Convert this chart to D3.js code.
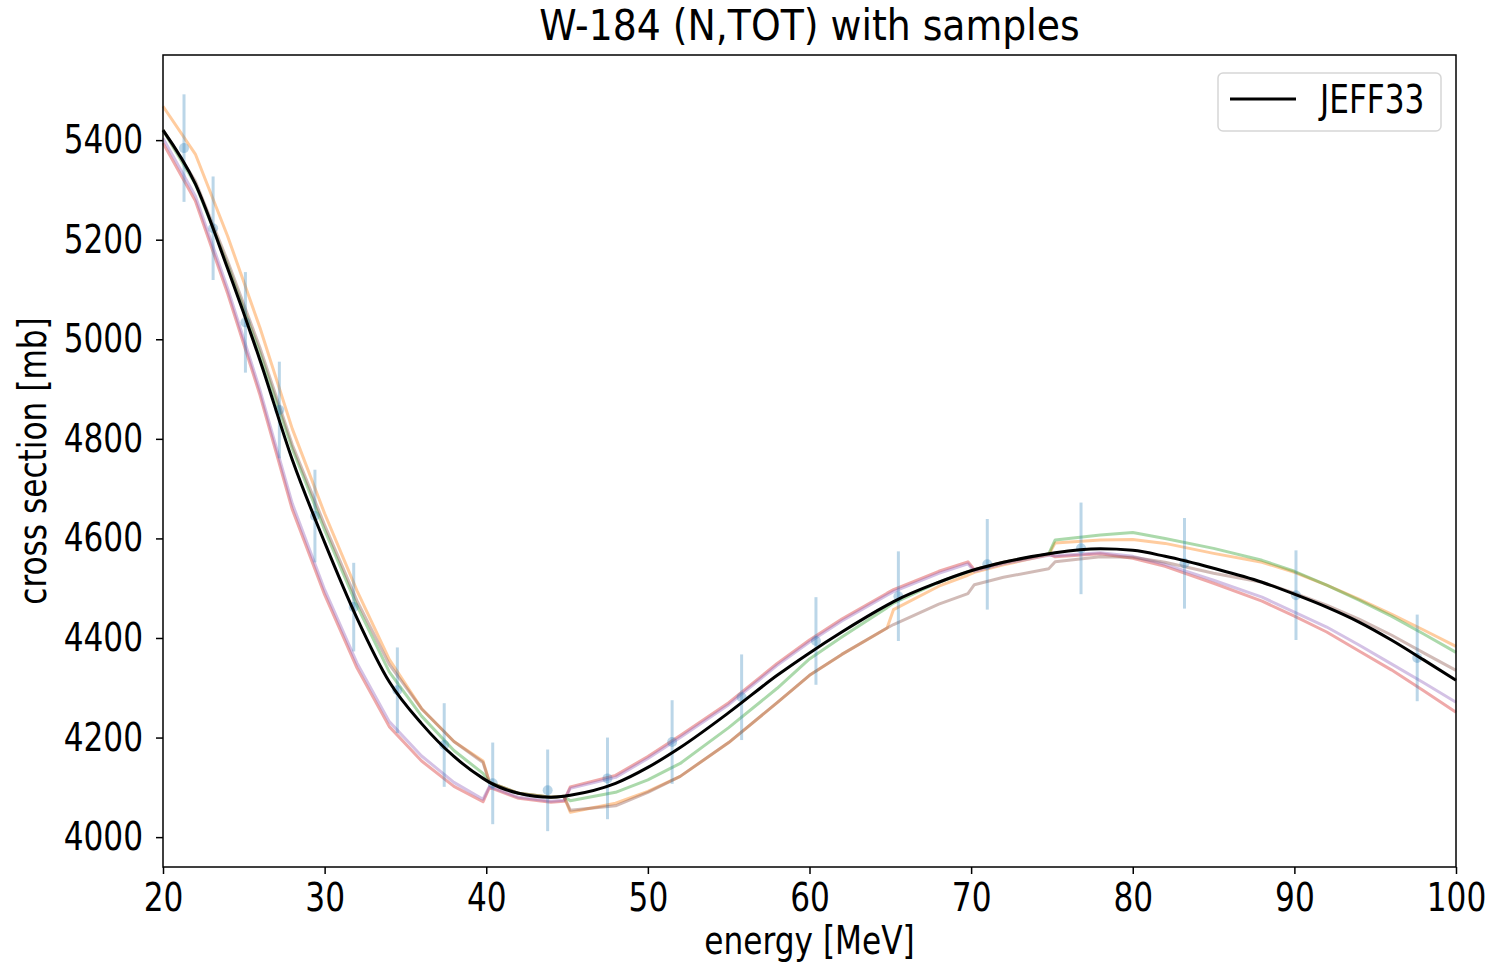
<!DOCTYPE html>
<html>
<head>
<meta charset="utf-8">
<script src="https://cdn.jsdelivr.net/npm/d3@7"></script>
<style>
  body { margin: 0; background: #fff; }
  svg { display: block; }
</style>
</head>
<body>
<svg id="chart" width="1492" height="968"></svg>
<script>
// energy grid shared by the evaluated curve and the samples [MeV]
const energy = [20, 22, 24, 26, 28, 30, 32, 34, 36, 38, 39.8, 40.2, 42, 44, 44.8, 45.2,
  48, 50, 52, 55, 58, 60, 62, 64.8, 65.2, 68, 69.8, 70.2, 72, 74.8, 75.2, 78, 80, 82, 85,
  88, 90, 92, 94, 96, 98, 100];

// JEFF33 cross section [mb]
const jeff33 = [5420, 5312, 5142, 4958, 4758, 4592, 4440, 4312, 4228, 4162, 4118, 4110, 4088, 4080, 4082, 4084,
  4108, 4140, 4180, 4250, 4325, 4370, 4412, 4466, 4473, 4512, 4533, 4537, 4552, 4569, 4571, 4579, 4576, 4564, 4540,
  4512, 4488, 4462, 4432, 4396, 4356, 4315];

// random samples
const sampleOrange = [5468, 5372, 5207, 5023, 4820, 4650, 4495, 4357, 4258, 4192, 4153, 4110, 4088, 4080, 4082, 4050,
  4068, 4092, 4122, 4190, 4270, 4325, 4367, 4420, 4457, 4504, 4526, 4532, 4547, 4567, 4591, 4597, 4598, 4590, 4570,
  4552, 4532, 4506, 4478, 4448, 4416, 4383];
const sampleGreen = [5420, 5312, 5150, 4973, 4780, 4617, 4465, 4332, 4243, 4174, 4128, 4110, 4088, 4080, 4082, 4073,
  4090, 4115, 4148, 4220, 4299, 4358, 4402, 4461, 4470, 4512, 4533, 4537, 4552, 4569, 4597, 4607, 4612, 4600, 4580,
  4556, 4534, 4506, 4476, 4444, 4408, 4371];
const sampleRed = [5394, 5278, 5092, 4888, 4658, 4487, 4340, 4222, 4153, 4102, 4071, 4100, 4078, 4070, 4072, 4101,
  4124, 4162, 4204, 4270, 4349, 4396, 4438, 4490, 4497, 4534, 4553, 4537, 4552, 4569, 4563, 4569, 4560, 4544, 4510,
  4474, 4444, 4412, 4374, 4336, 4294, 4251];
const samplePurple = [5404, 5288, 5102, 4898, 4670, 4497, 4350, 4232, 4163, 4110, 4076, 4102, 4080, 4072, 4074, 4098,
  4120, 4158, 4200, 4266, 4345, 4392, 4434, 4486, 4493, 4530, 4549, 4534, 4549, 4566, 4565, 4571, 4564, 4548, 4516,
  4482, 4452, 4422, 4386, 4348, 4310, 4271];
const sampleBrown = [5420, 5318, 5157, 4983, 4788, 4627, 4475, 4347, 4258, 4192, 4150, 4110, 4088, 4080, 4082, 4054,
  4063, 4090, 4122, 4190, 4270, 4325, 4367, 4420, 4427, 4468, 4489, 4507, 4522, 4539, 4553, 4563, 4562, 4552, 4530,
  4512, 4490, 4466, 4438, 4406, 4370, 4335];

// experimental points with uncertainty
const expEnergy = [21.3, 23.1, 25.1, 27.2, 29.4, 31.8, 34.5, 37.4, 40.4, 43.8, 47.5, 51.5, 55.8, 60.4, 65.5, 71.0,
  76.8, 83.2, 90.1, 97.6];
const expValue = [5384, 5223, 5034, 4858, 4645, 4462, 4295, 4185, 4108, 4094, 4118, 4191, 4281, 4394, 4484, 4548,
  4580, 4550, 4486, 4360];
const expError = [108, 104, 101, 97, 93, 89, 86, 84, 82, 82, 82, 84, 86, 88, 90, 91, 92, 91, 90, 87];

const xTicks = [20, 30, 40, 50, 60, 70, 80, 90, 100];
const yTicks = [4000, 4200, 4400, 4600, 4800, 5000, 5200, 5400];

const svg = d3.select('#chart');
const margin = { top: 55, right: 36, bottom: 101, left: 163 },
    width = +svg.attr('width') - margin.left - margin.right,
    height = +svg.attr('height') - margin.top - margin.bottom;

const font = "'DejaVu Sans', sans-serif";
const fontSize = 39;
const squeeze = 0.8; // text in the picture is narrower than normal

const g = svg.append('g').attr('transform', `translate(${margin.left},${margin.top})`);

const x = d3.scaleLinear().domain([20, 100]).range([0, width]);
const y = d3.scaleLinear().domain([3940, 5571]).range([height, 0]);

const samples = [
    { values: sampleOrange, color: '#ff7f0e' },
    { values: sampleGreen, color: '#2ca02c' },
    { values: sampleRed, color: '#d62728' },
    { values: samplePurple, color: '#9467bd' },
    { values: sampleBrown, color: '#8c564b' }
];

const line = d3.line().x(d => x(d[0])).y(d => y(d[1]));

// samples
samples.forEach(s => {
    g.append('path')
        .datum(energy.map((e, i) => [e, s.values[i]]))
        .attr('fill', 'none')
        .attr('stroke', s.color)
        .attr('stroke-opacity', 0.4)
        .attr('stroke-width', 3)
        .attr('stroke-linejoin', 'round')
        .attr('d', line);
});

// error bars
const exp = expEnergy.map((e, i) => ({ e: e, v: expValue[i], err: expError[i] }));
g.selectAll('.ebar')
    .data(exp)
    .enter().append('line')
    .attr('class', 'ebar')
    .attr('x1', d => x(d.e)).attr('x2', d => x(d.e))
    .attr('y1', d => y(d.v - d.err)).attr('y2', d => y(d.v + d.err))
    .attr('stroke', '#1f77b4')
    .attr('stroke-opacity', 0.3)
    .attr('stroke-width', 3);
g.selectAll('.edot')
    .data(exp)
    .enter().append('circle')
    .attr('class', 'edot')
    .attr('cx', d => x(d.e)).attr('cy', d => y(d.v))
    .attr('r', 5)
    .attr('fill', '#1f77b4')
    .attr('fill-opacity', 0.3);

// JEFF33
g.append('path')
    .datum(energy.map((e, i) => [e, jeff33[i]]))
    .attr('fill', 'none')
    .attr('stroke', '#000')
    .attr('stroke-width', 3)
    .attr('d', line.curve(d3.curveMonotoneX));

// axes
const xAxis = g.append('g')
    .attr('transform', `translate(0,${height})`)
    .call(d3.axisBottom(x).tickValues(xTicks).tickFormat(d3.format('d'))
        .tickSize(7).tickPadding(9).tickSizeOuter(0));
const yAxis = g.append('g')
    .call(d3.axisLeft(y).tickValues(yTicks).tickFormat(d3.format('d'))
        .tickSize(7).tickPadding(18).tickSizeOuter(0));

[xAxis, yAxis].forEach(a => {
    a.select('.domain').remove();
    a.selectAll('line').attr('stroke', '#000').attr('stroke-width', 1.5);
    a.selectAll('text')
        .attr('font-family', font)
        .attr('font-size', fontSize)
        .attr('fill', '#000')
        .attr('transform', `scale(${squeeze},1)`);
});

// frame
g.append('rect')
    .attr('width', width).attr('height', height)
    .attr('fill', 'none')
    .attr('stroke', '#000')
    .attr('stroke-width', 1.5);

function label(parent, txt, px, py, size, sx, rotate) {
    return parent.append('text')
        .attr('transform', `translate(${px},${py})` + (rotate ? ' rotate(-90)' : '') + ` scale(${sx},1)`)
        .attr('text-anchor', 'middle')
        .attr('font-family', font)
        .attr('font-size', size)
        .attr('fill', '#000')
        .text(txt);
}

label(svg, 'W-184 (N,TOT) with samples', margin.left + width / 2, 40, 42, 0.9);
label(svg, 'energy [MeV]', margin.left + width / 2, 954, fontSize, squeeze);
label(svg, 'cross section [mb]', 46, margin.top + height / 2, fontSize, squeeze, true);

// legend
const legend = g.append('g').attr('transform', `translate(${width - 238},18)`);
legend.append('rect')
    .attr('width', 223).attr('height', 58)
    .attr('rx', 5)
    .attr('fill', '#fff').attr('fill-opacity', 0.8)
    .attr('stroke', '#d6d6d6').attr('stroke-width', 1.5);
legend.append('line')
    .attr('x1', 12).attr('x2', 78)
    .attr('y1', 26).attr('y2', 26)
    .attr('stroke', '#000').attr('stroke-width', 3);
legend.append('text')
    .attr('transform', `translate(102,40) scale(${squeeze},1)`)
    .attr('font-family', font)
    .attr('font-size', fontSize)
    .attr('fill', '#000')
    .text('JEFF33');
</script>
</body>
</html>
